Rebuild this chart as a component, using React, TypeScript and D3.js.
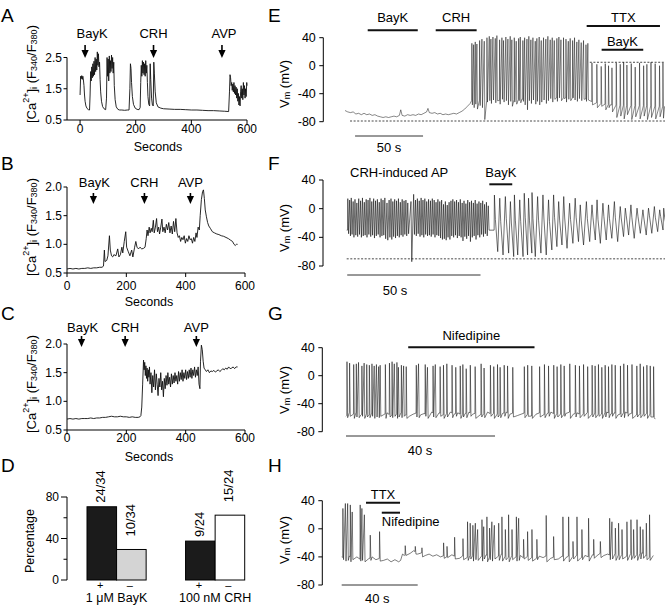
import React from "react";
import * as d3 from "d3";

const FONT = "'Liberation Sans', Arial, Helvetica, sans-serif";

// ---------------- DATA ----------------
// Panel A: [seconds, ratio]
const aTrace = [
  [0, 1.3], [2, 1.9], [4, 1.82], [6, 1.92], [8, 1.8], [10, 1.9], [12, 1.78], [14, 1.6], [16, 1.3], [18, 1.1], [21, 0.95], [25, 0.87], [30, 0.83], [34, 0.82],
  [36, 1.3], [38, 2.05], [40, 1.75], [42, 2.2], [44, 1.85], [46, 2.3], [48, 1.9], [50, 2.38], [52, 1.95], [54, 2.5], [56, 2.05], [58, 2.45], [60, 2.1], [62, 2.68], [64, 2.25], [66, 2.62], [68, 2.2], [70, 2.35], [72, 1.8], [74, 1.4], [77, 1.1], [81, 0.93], [86, 0.86], [92, 0.83],
  [95, 1.2], [97, 2.5], [99, 1.9], [101, 2.45], [103, 1.75], [105, 2.55], [107, 2.0], [109, 2.4], [111, 2.05], [113, 2.58], [115, 2.15], [117, 2.5], [119, 2.0], [121, 2.35], [123, 1.6], [126, 1.15], [130, 0.92], [136, 0.84], [142, 0.82], [150, 0.82], [160, 0.81], [170, 0.82],
  [176, 0.82], [179, 1.5], [181, 2.3], [183, 2.15], [185, 1.7], [188, 1.25], [192, 1.0], [198, 0.88], [205, 0.84], [212, 0.83],
  [216, 0.9], [218, 1.7], [220, 2.25], [222, 1.9], [224, 2.4], [226, 2.0], [228, 2.35], [230, 1.95], [232, 2.3], [234, 1.9], [236, 2.4], [238, 2.0], [240, 2.25], [242, 1.7], [244, 1.25], [247, 1.0], [250, 0.95],
  [252, 2.3], [254, 1.8], [257, 1.2], [260, 0.98], [263, 0.95], [265, 2.35], [267, 2.0], [270, 1.4], [274, 1.05], [280, 0.92], [290, 0.88], [300, 0.86], [320, 0.85], [340, 0.84], [360, 0.84], [380, 0.83], [400, 0.82], [420, 0.82], [440, 0.81], [460, 0.8], [480, 0.8], [500, 0.79], [520, 0.78], [534, 0.77],
  [537, 1.4], [539, 1.95], [541, 1.85], [543, 1.6], [545, 1.7], [547, 1.45], [549, 1.65], [551, 1.4], [553, 1.7], [555, 1.35], [557, 1.6], [559, 1.3], [561, 1.55], [563, 1.2], [565, 1.5], [567, 1.1], [569, 1.35], [571, 0.98], [573, 1.25], [575, 0.95], [577, 1.4], [579, 1.6], [581, 1.2], [583, 1.5], [585, 1.15], [587, 1.7], [589, 1.3], [591, 1.6], [593, 1.2], [595, 1.5], [597, 1.25], [599, 1.7], [600, 1.6],
];
const aArrows = [{ t: 18, label: "BayK" }, { t: 264, label: "CRH" }, { t: 510, label: "AVP" }];

const bTrace = [
  [0, 0.57], [10, 0.58], [20, 0.57], [30, 0.58], [40, 0.57], [50, 0.58], [60, 0.58], [70, 0.59], [80, 0.58], [90, 0.59], [100, 0.59], [110, 0.6], [118, 0.6],
  [123, 0.62], [126, 0.9], [128, 0.7], [134, 0.72], [138, 0.8], [143, 1.15], [146, 0.9], [150, 0.8], [154, 0.78], [158, 0.82], [165, 0.8], [171, 0.92], [175, 0.78], [180, 0.82], [185, 0.95], [188, 0.85], [193, 1.05], [198, 1.22], [201, 0.95], [206, 0.88], [212, 0.8], [218, 0.9], [222, 0.78], [228, 0.95], [232, 1.05], [236, 0.95], [241, 0.92], [246, 0.95], [252, 0.92], [258, 0.93], [263, 0.95],
  [267, 1.1], [270, 1.25], [273, 1.15], [277, 1.3], [280, 1.2], [284, 1.28], [287, 1.22], [291, 1.42], [294, 1.2], [298, 1.3], [302, 1.45], [305, 1.22], [309, 1.3], [312, 1.18], [316, 1.3], [320, 1.44], [323, 1.22], [327, 1.3], [331, 1.2], [335, 1.35], [339, 1.25], [343, 1.38], [347, 1.2], [351, 1.32], [355, 1.18], [359, 1.4], [363, 1.22], [367, 1.45], [371, 1.2], [375, 1.12], [379, 1.15], [383, 1.05], [387, 1.12], [391, 1.08], [395, 1.15], [399, 1.02], [403, 1.1], [407, 1.05], [411, 1.15], [415, 1.08], [419, 1.1], [423, 1.02], [427, 1.12], [431, 1.05], [435, 1.2], [438, 1.12], [442, 1.3], [446, 1.25], [449, 1.5], [453, 1.78], [457, 1.92], [460, 1.95], [463, 1.8], [466, 1.6], [470, 1.48], [474, 1.38], [478, 1.32], [483, 1.28], [490, 1.22], [497, 1.2], [505, 1.18], [512, 1.17], [520, 1.15], [528, 1.14], [536, 1.12], [544, 1.1], [552, 1.07], [558, 1.05], [563, 1.0], [567, 0.98], [571, 1.0], [575, 1.0],
];
const bArrows = [{ t: 89, label: "BayK" }, { t: 261, label: "CRH" }, { t: 416, label: "AVP" }];

const cTrace = [
  [0, 0.69], [10, 0.7], [20, 0.69], [30, 0.7], [40, 0.69], [50, 0.7], [60, 0.7], [70, 0.7], [80, 0.71], [90, 0.7], [100, 0.71], [110, 0.71], [120, 0.72], [130, 0.72], [140, 0.73], [150, 0.74], [160, 0.73], [170, 0.73], [180, 0.74], [190, 0.73], [200, 0.73], [210, 0.72], [220, 0.73], [230, 0.72], [240, 0.72], [246, 0.73], [249, 0.75],
  [252, 0.9], [255, 1.3], [258, 1.72], [260, 1.55], [262, 1.68], [264, 1.45], [266, 1.62], [268, 1.4], [270, 1.58], [272, 1.35], [274, 1.55], [276, 1.42], [278, 1.6], [280, 1.3], [283, 1.5], [286, 1.15], [289, 1.45], [292, 1.25], [295, 1.55], [298, 1.2], [301, 1.48], [304, 1.3], [307, 1.1], [310, 1.4], [313, 1.25], [316, 1.5], [319, 1.2], [322, 1.35], [325, 1.08], [328, 1.4], [331, 1.22], [334, 1.45], [337, 1.28], [340, 1.5], [343, 1.3], [346, 1.42], [349, 1.25], [352, 1.48], [355, 1.3], [358, 1.45], [361, 1.32], [364, 1.5], [367, 1.35], [370, 1.45], [373, 1.3], [376, 1.52], [379, 1.35], [382, 1.5], [385, 1.38], [388, 1.55], [391, 1.35], [394, 1.5], [397, 1.4], [400, 1.55], [403, 1.38], [406, 1.52], [409, 1.4], [412, 1.55], [415, 1.42], [418, 1.58], [421, 1.4], [424, 1.55], [427, 1.45], [430, 1.6], [433, 1.42], [436, 1.55], [439, 1.45], [442, 1.6], [445, 1.3], [448, 1.22],
  [450, 1.7], [453, 1.98], [456, 1.9], [459, 1.7], [462, 1.58], [466, 1.55], [470, 1.52], [475, 1.55], [480, 1.5], [485, 1.53], [490, 1.52], [495, 1.54], [500, 1.51], [505, 1.53], [510, 1.55], [515, 1.52], [520, 1.54], [525, 1.57], [530, 1.55], [535, 1.58], [540, 1.56], [545, 1.6], [550, 1.57], [555, 1.58], [560, 1.6], [565, 1.57], [570, 1.6], [575, 1.6],
];
const cArrows = [{ t: 49, label: "BayK" }, { t: 196, label: "CRH" }, { t: 436, label: "AVP" }];

const ratioTicksA = [0.5, 1.5, 2.5];
const ratioTicksBC = [0.5, 1.0, 1.5, 2.0];
const secondsTicks = [0, 200, 400, 600];

// Panel D
const dGroups = ["1 μM BayK", "100 nM CRH"];
const dConds = ["+", "–"];
const dCounts = [[24, 10], [9, 15]];
const dTotals = [34, 24];
const dTicks = [0, 40, 80];
const dMinorTicks = [20, 60];

// Vm panels
const vmTicks = [40, 0, -40, -80];

// E: baseline [s, mV]; spikes [s, peak mV, trough mV]
const eBaseline = [
  [0, -64], [2, -66], [4, -67], [6, -66], [8, -69], [10, -68], [12, -70], [14, -68], [16, -70], [18, -69], [20, -71], [22, -70], [24, -72], [26, -73], [28, -74], [30, -73], [32, -74], [34, -73], [36, -72], [38, -73], [40, -71], [41, -63], [42, -71], [44, -72], [46, -70], [48, -71], [50, -70], [52, -71], [54, -69], [56, -70], [58, -68], [60, -66], [61, -61], [62, -67], [64, -68], [66, -67], [68, -69], [70, -68], [72, -70], [74, -69], [76, -70], [78, -69], [80, -68], [82, -69], [84, -67], [86, -65], [88, -62], [90, -58], [92, -54], [93, -50],
  [110, -50], [130, -48], [150, -46], [170, -46], [179, -48], [182, -52], [195, -56], [235, -58],
];
const eSpikes = [
  [93.1, 32, -56], [94.4, 30, -60], [95.6, 34, -55], [96.8, 31, -62], [98.8, 36, -57], [100.5, 38, -60], [102.2, 35, -77], [104.2, 40, -52], [105.9, 42, -50], [107.1, 38, -54], [108.6, 41, -49], [110.3, 39, -53], [111.5, 43, -50], [113.5, 37, -55], [115.2, 40, -48], [116.4, 36, -52], [118.1, 41, -50], [119.6, 38, -56], [121.3, 42, -51], [122.5, 37, -58], [124.3, 40, -52], [125.7, 35, -55], [127.5, 39, -50], [128.7, 41, -53], [130.6, 36, -51], [131.9, 40, -56], [133.6, 38, -63], [135.0, 42, -50], [136.5, 37, -54], [138.0, 40, -49], [139.7, 35, -55], [140.9, 39, -51], [142.6, 41, -56], [144.1, 36, -52], [145.8, 40, -49], [147.5, 38, -54], [149.0, 42, -50], [150.7, 37, -47], [152.2, 40, -52], [153.7, 36, -48], [155.6, 39, -51], [157.1, 41, -46], [158.6, 37, -50], [160.5, 40, -47], [162.3, 38, -52], [164.0, 35, -48], [165.4, 39, -50], [167.2, 36, -46], [168.6, 40, -49], [170.3, 34, -51], [171.8, 37, -47], [173.5, 33, -50], [175.2, 36, -48], [177.0, 30, -51], [178.4, 32, -49],
  [181.4, 4, -56], [185.0, 2, -60], [188.2, -1, -58], [191.2, 3, -63], [193.6, 0, -60], [196.1, -3, -66], [199.3, 4, -74], [202.2, 2, -72], [204.7, 5, -76], [207.1, 1, -70], [210.3, 3, -77], [213.2, -2, -73], [216.4, 4, -76], [219.4, 0, -72], [221.8, 2, -77], [224.8, 5, -74], [227.9, 3, -76], [231.1, 0, -73], [233.6, 4, -75],
];

// F
const fBaseline = [[0, -30], [120, -30]];
const fSpikes = [
  [0.3, 14, -35], [1.0, 12, -38], [1.6, 15, -36], [2.3, 10, -40], [3.0, 13, -37], [3.7, 8, -39], [4.4, 14, -36], [5.1, 11, -40], [5.8, 15, -38], [6.5, 9, -37], [7.2, 13, -40], [7.9, 12, -36], [8.6, 15, -39], [9.3, 10, -37], [10.0, 14, -41], [10.7, 11, -38], [11.4, 13, -36], [12.1, 9, -40], [12.8, 14, -38], [13.5, 12, -37], [14.2, 15, -42], [15.0, 8, -44], [15.8, 12, -40], [16.5, 14, -43], [17.2, 10, -39], [17.9, 13, -41], [18.6, 11, -38], [19.3, 14, -40], [20.0, 9, -37], [20.7, 13, -39], [21.4, 11, -36], [22.1, 12, -38], [22.8, 8, -35], [24.0, 10, -74], [25.0, 20, -36], [25.7, 12, -38], [26.4, 14, -35], [27.1, 11, -39], [27.8, 15, -37], [28.5, 12, -40], [29.2, 14, -36], [29.9, 10, -38], [30.6, 13, -37], [31.3, 11, -39], [32.0, 14, -36], [32.7, 12, -40], [33.4, 9, -37], [34.1, 13, -38], [34.8, 10, -41], [35.5, 12, -43], [36.2, 6, -42], [36.9, 10, -44], [37.6, 5, -40], [38.3, 9, -43], [39.0, 11, -38], [39.7, 13, -40], [40.4, 10, -37], [41.1, 12, -41], [41.8, 9, -38], [42.5, 13, -40], [43.2, 8, -45], [43.9, 11, -39], [44.6, 7, -42], [45.3, 12, -38], [46.0, 9, -46], [46.7, 11, -40], [47.4, 8, -38], [48.1, 12, -43], [48.8, 7, -37], [49.5, 10, -40], [50.2, 8, -36], [50.9, 11, -39], [51.6, 6, -35], [52.3, 9, -38], [53.0, 4, -30],
  [55.3, 19, -60, -15], [57.3, 14.6, -64.6, -18], [59.4, 16.9, -62, -14], [61.3, 9.9, -66.9, -20], [62.8, 19.2, -64.6, -16], [64.8, 12.3, -66.9, -18], [66.5, 21.5, -64.6, -12], [68.1, 14.6, -62, -17], [69.4, 22.5, -66.9, -14], [71.5, 16.9, -62, -16], [73.5, 19.2, -64.6, -13], [75.6, 12.3, -57.6, -18], [77.5, 19.2, -53, -12], [79.4, 9.9, -50.7, -16], [81.3, 16.9, -55.3, -13], [83.5, 7.6, -48.4, -15], [85.6, 14.6, -46, -12], [87.5, 5.3, -50.7, -16], [89.8, 9.9, -46, -14], [91.9, 5.3, -43.7, -12], [93.8, 12.3, -48.4, -15], [96.0, 7.6, -43.7, -11], [98.1, 5.3, -41.4, -14], [100.3, 9.9, -46, -12], [102.5, 3, -39, -13], [104.4, 0.7, -36.8, -10], [106.5, 5.3, -41.4, -12], [108.8, 0.7, -34.4, -11], [111.0, -1.6, -36.8, -13], [113.1, 0.7, -34.4, -10], [115.3, 3, -32.1, -12], [117.3, -1.6, -29.8, -11], [118.8, 0.7, -30, -12],
];

// G
const gBaseline = [
  [0, -58], [1, -52], [2, -55], [3, -51], [4, -56], [5, -52], [6, -57], [7, -53], [8, -55], [9, -52], [10, -56], [11, -53], [12, -57], [13, -54], [14, -55], [15, -52], [16, -56], [17, -58], [18, -55], [19, -53], [20, -56], [21, -54], [22, -57], [23, -52], [24, -55], [25, -53], [26, -56], [27, -54], [28, -52], [29, -55], [30, -53], [31, -56], [32, -54], [33, -52], [34, -55], [35, -53], [36, -56], [37, -54], [38, -52], [39, -55], [40, -53], [41, -56], [42, -54], [43, -52], [44, -55], [45, -53], [46, -57], [47, -55], [48, -53], [49, -56], [50, -58], [51, -55], [52, -53], [53, -56], [54, -54], [55, -52], [56, -55], [57, -53], [58, -56], [59, -54], [60, -52], [61, -55], [62, -53], [63, -56], [64, -54], [65, -52], [66, -55], [67, -53], [68, -56], [69, -54], [70, -52], [71, -55], [72, -53], [73, -56], [74, -54], [75, -52], [76, -55], [77, -53], [78, -56], [79, -54], [80, -55], [81, -53], [82, -56], [83, -62],
];
const gSpikes = [
  [0.2, 20, -60], [0.9, 18, -58], [2.0, 16, -61], [2.7, 17, -59], [3.3, 19, -60], [4.2, 14, -58], [4.8, 18, -61], [5.5, 16, -59], [6.2, 15, -60], [6.9, 17, -58], [7.5, 14, -61], [8.1, 16, -59], [8.7, 13, -60], [9.1, 15, -58], [10.5, 16, -61], [11.6, 18, -59], [12.3, 20, -60], [12.9, 17, -58], [13.6, 19, -61], [14.0, 12, -59], [14.8, 15, -60], [15.4, 14, -58], [16.1, 13, -61],
  [18.8, 15, -59], [19.4, 17, -60], [21.2, 16, -58], [21.8, 12, -61], [23.3, 14, -59], [23.9, 16, -60], [25.2, 13, -58], [26.1, 15, -61], [27.0, 17, -59], [28.4, 15, -60], [29.4, 12, -58], [30.6, 14, -61], [31.3, 16, -59], [32.2, 10, -60], [33.3, 15, -58], [34.6, 13, -61], [36.2, 17, -59], [37.0, 11, -60], [38.7, 15, -58], [39.6, 13, -61], [40.6, 16, -59], [41.3, 12, -60], [42.4, 15, -58], [43.3, 14, -61], [44.7, 12, -59],
  [47.8, 13, -60], [48.7, 15, -58], [49.8, 14, -61], [51.9, 13, -59], [53.2, 16, -60], [54.3, 14, -58], [55.7, 15, -61], [56.6, 13, -59], [57.6, 16, -60], [58.5, 14, -58], [60.0, 17, -61], [61.5, 15, -59], [62.6, 14, -60], [63.7, 16, -58], [64.8, 13, -61], [66.0, 15, -59], [66.8, 14, -60], [67.7, 16, -58], [68.6, 12, -61], [69.5, 15, -59], [70.4, 13, -60], [71.3, 16, -58], [72.2, 15, -61], [73.6, 14, -59], [74.5, 17, -60], [75.5, 15, -58], [76.7, 16, -61], [78.0, 14, -59], [78.9, 17, -60], [79.8, 13, -58], [80.7, 15, -61], [81.6, 14, -59], [82.5, 13, -60],
];

// H
const hBaseline = [
  [0, -40], [2, -43], [4, -39], [6, -42], [8, -40], [10, -44], [12, -41], [14, -43], [16, -40], [18, -44], [20, -42], [22, -45], [24, -43], [26, -47], [28, -44], [30, -47], [31, -45], [32, -36], [33, -38], [34, -33], [36, -35], [38, -31], [40, -36], [42, -34], [44, -38], [46, -36], [48, -39], [50, -37], [52, -40], [54, -38], [56, -41], [58, -37], [60, -40], [62, -42], [64, -38], [66, -41], [68, -37], [70, -40], [72, -36], [74, -39], [76, -37], [78, -41], [80, -38], [82, -40], [84, -36], [86, -39], [88, -41], [90, -37], [92, -40], [94, -38], [96, -42], [98, -39], [100, -41], [102, -43], [104, -39], [106, -41], [108, -38], [110, -42], [112, -40], [114, -43], [116, -39], [118, -41], [120, -38], [122, -40], [124, -37], [126, -41], [128, -38], [130, -40], [132, -37], [134, -39], [136, -35], [138, -38], [140, -36], [142, -39], [144, -35], [146, -38], [148, -36], [150, -39], [152, -35], [154, -38], [156, -36], [158, -34], [160, -38], [162, -41], [164, -38],
];
const hSpikes = [
  [0.5, 29, -44], [1.8, 36, -46], [3.0, 36, -45], [4.4, 34, -47], [5.4, 24, -44], [9.6, 34, -46], [10.5, 29, -45], [11.8, 20, -47], [14.9, -9, -45], [19.8, -4, -46], [33.3, -24, -38], [38.6, -25, -36], [42.1, -27, -40], [53.5, -20, -42], [55.3, -25, -41], [59.3, -12, -43], [63.7, -14, -44], [66.1, 10, -45], [67.5, 8, -43], [68.9, 5, -46], [70.2, 8, -44], [71.4, -1, -45], [73.7, 13, -46], [74.6, 3, -43], [76.3, 17, -47], [77.7, 1, -44], [78.9, 10, -46], [80.2, 5, -43], [82.5, 8, -45], [84.2, 17, -46], [86.0, -1, -44], [87.7, 20, -47], [89.5, -1, -44], [91.8, 17, -46], [93.0, 15, -45], [95.6, -15, -43], [97.7, -4, -45], [100.0, -1, -46], [102.6, -15, -44], [107.5, 19, -47], [111.4, -11, -44], [116.3, 17, -46], [119.3, 17, -47], [121.6, -18, -43], [123.7, 17, -46], [126.3, -1, -44], [129.8, 15, -46], [132.5, -15, -42], [136.0, -18, -41], [140.9, 15, -44], [142.1, 10, -43], [143.9, 1, -45], [145.6, 8, -44], [147.4, -1, -43], [150.0, 10, -45], [152.1, 13, -44], [153.5, -1, -42], [155.3, 13, -45], [157.0, 3, -43], [158.4, -1, -42], [160.2, 8, -44], [161.9, 20, -45],
];

// drug application bars [start s, end s, label]
const eDrugs = [[16.7, 53.5, "BayK"], [66.7, 96.8, "CRH"], [177.7, 231.6, "TTX"], [188.7, 219.3, "BayK"]];
const fDrugs = [[53.5, 62.1, "BayK"]];
const gDrugs = [[16.7, 50.6, "Nifedipine"]];
const hDrugs = [[12.8, 30.7, "TTX"], [21.1, 30.7, "Nifedipine"]];

// ---------------- LAYOUT ----------------
const CA_LAYOUT = {
  A: { letterY: 15, xDomain: [-47, 600], xRange: [67, 247], yDomain: [0.5, 2.5], yRange: [120, 57.5], yTicks: ratioTicksA, xLabelY: 129, secondsX: 158, secondsY: 147, arrowTop: 45, arrowTip: 58, arrowLabelY: 33, labelDx: [7, 0, 2] },
  B: { letterY: 163.5, xDomain: [0, 600], xRange: [67, 245], yDomain: [0.5, 2.0], yRange: [273, 187], yTicks: ratioTicksBC, xLabelY: 286, secondsX: 149, secondsY: 302, arrowTop: 193, arrowTip: 204, arrowLabelY: 182, labelDx: [1, 0, 0] },
  C: { letterY: 313.5, xDomain: [0, 600], xRange: [67, 245], yDomain: [0.5, 2.0], yRange: [430, 344], yTicks: ratioTicksBC, xLabelY: 438, secondsX: 149, secondsY: 457, arrowTop: 336, arrowTip: 347, arrowLabelY: 327, labelDx: [1, 0, 0] },
};

type Pt = number[];

function buildTrace(baseline: Pt[], spikes: Pt[], x: any, o: any) {
  const k = (x.domain()[1] - x.domain()[0]) / (x.range()[1] - x.range()[0]);
  const r = o.rise * k, f = o.fall * k, fl = (o.fallLong ?? o.fall) * k, g = o.gap * k;
  const baseAt = (t: number) => {
    let i = d3.bisector((d: Pt) => d[0]).left(baseline, t);
    if (i <= 0) return baseline[0][1];
    if (i >= baseline.length) return baseline[baseline.length - 1][1];
    const a = baseline[i - 1], b = baseline[i];
    return a[1] + ((t - a[0]) / (b[0] - a[0])) * (b[1] - a[1]);
  };
  const pts: Pt[] = [];
  let prevEnd = -Infinity;
  let bi = 0;
  const sp = [...spikes].sort((a, b) => a[0] - b[0]);
  for (const s of sp) {
    const [t, pk, tr, sh] = s;
    const quiet = t - prevEnd > g;
    while (bi < baseline.length && baseline[bi][0] < t) {
      const bt = baseline[bi][0];
      if (quiet && bt > prevEnd + g * 0.5 && bt < t - r) pts.push(baseline[bi]);
      bi++;
    }
    if (quiet) pts.push([t, baseAt(t)]);
    pts.push([t + r, pk]);
    const ff = sh !== undefined ? fl : f;
    if (sh !== undefined) pts.push([t + ff * 0.35, sh]);
    pts.push([t + ff, tr]);
    prevEnd = t + ff;
  }
  while (bi < baseline.length) {
    if (baseline[bi][0] > prevEnd + g * 0.5) pts.push(baseline[bi]);
    bi++;
  }
  return pts;
}

function CaLabel({ x, y }: { x: number; y: number }) {
  return (
    <text transform={`translate(${x},${y}) rotate(-90)`} fontSize={13} dominantBaseline="central">
      [Ca<tspan fontSize={9} dy={-5}>2+</tspan>
      <tspan dy={5}>]</tspan>
      <tspan fontSize={9} dy={3}>i</tspan>
      <tspan dy={-3}> (F</tspan>
      <tspan fontSize={9} dy={3}>340</tspan>
      <tspan dy={-3}>/F</tspan>
      <tspan fontSize={9} dy={3}>380</tspan>
      <tspan dy={-3}>)</tspan>
    </text>
  );
}

function CaPanel({ id, trace, arrows }: any) {
  const L = (CA_LAYOUT as any)[id];
  const x = d3.scaleLinear().domain(L.xDomain).range(L.xRange);
  const y = d3.scaleLinear().domain(L.yDomain).range(L.yRange);
  const line = d3.line<number[]>().x((d) => x(d[0])).y((d) => y(d[1]));
  const ax0 = L.xRange[0], ax1 = L.xRange[1], yb = L.yRange[0], yt = L.yRange[1];
  return (
    <g>
      <text x={1} y={L.letterY} fontSize={19} dominantBaseline="central">{id}</text>
      <line x1={ax0} x2={ax0} y1={yb} y2={yt} stroke="#000" strokeWidth={1} />
      {L.yTicks.map((v: number) => (
        <g key={v}>
          <line x1={ax0 - 3.5} x2={ax0} y1={y(v)} y2={y(v)} stroke="#000" />
          <text x={ax0 - 5} y={y(v)} textAnchor="end" dominantBaseline="central" fontSize={12}>{v.toFixed(1)}</text>
        </g>
      ))}
      <line x1={ax0} x2={ax1} y1={yb} y2={yb} stroke="#000" strokeWidth={1} />
      {secondsTicks.map((v) => (
        <g key={v}>
          <line x1={x(v)} x2={x(v)} y1={yb} y2={yb + 4} stroke="#000" />
          <text x={x(v)} y={L.xLabelY} textAnchor="middle" dominantBaseline="central" fontSize={12}>{v}</text>
        </g>
      ))}
      <text x={L.secondsX} y={L.secondsY} textAnchor="middle" dominantBaseline="central" fontSize={12.5}>Seconds</text>
      <CaLabel x={31} y={yb + 3} />
      <path d={line(trace as any) || ""} fill="none" stroke="#111" strokeWidth={0.9} strokeLinejoin="round" />
      {arrows.map((a: any, i: number) => {
        const ax = x(a.t);
        return (
          <g key={i}>
            <line x1={ax} x2={ax} y1={L.arrowTop} y2={L.arrowTip - 6} stroke="#000" strokeWidth={1.6} />
            <path d={`M${ax - 3.6},${L.arrowTip - 8} L${ax + 3.6},${L.arrowTip - 8} L${ax},${L.arrowTip} Z`} fill="#000" />
            <text x={ax + L.labelDx[i]} y={L.arrowLabelY} textAnchor="middle" dominantBaseline="central" fontSize={13}>{a.label}</text>
          </g>
        );
      })}
    </g>
  );
}

function BarPanel() {
  const y = d3.scaleLinear().domain([0, 80]).range([580, 497]);
  const gx = d3.scaleBand().domain(dGroups).range([87, 244.7]).paddingInner(0.4);
  const cx = d3.scaleBand().domain(dConds).range([0, gx.bandwidth()]);
  const fills = [["#1b1b1b", "#d4d4d4"], ["#1b1b1b", "#ffffff"]];
  const labelGap = [4, 13];
  const ax = 67;
  return (
    <g>
      <text x={1} y={465.5} fontSize={19} dominantBaseline="central">D</text>
      <line x1={ax} x2={ax} y1={y(0)} y2={y(80)} stroke="#000" />
      {dTicks.map((v) => (
        <g key={v}>
          <line x1={ax - 6} x2={ax} y1={y(v)} y2={y(v)} stroke="#000" />
          <text x={ax - 8} y={y(v)} textAnchor="end" dominantBaseline="central" fontSize={12}>{v}</text>
        </g>
      ))}
      {dMinorTicks.map((v) => (
        <line key={v} x1={ax - 3.5} x2={ax} y1={y(v)} y2={y(v)} stroke="#000" />
      ))}
      <text transform={`translate(30,541) rotate(-90)`} textAnchor="middle" dominantBaseline="central" fontSize={12.5}>Percentage</text>
      {dGroups.map((g, gi) => (
        <g key={g}>
          {dConds.map((c, ci) => {
            const v = (dCounts[gi][ci] / dTotals[gi]) * 100;
            const x0 = (gx(g) as number) + (cx(c) as number);
            const w = cx.bandwidth();
            const cxm = x0 + w / 2;
            return (
              <g key={c}>
                <rect x={x0} y={y(v)} width={w} height={y(0) - y(v)} fill={fills[gi][ci]} stroke="#000" strokeWidth={1} />
                <text transform={`translate(${cxm - 1},${y(v) - labelGap[ci]}) rotate(-90)`} textAnchor="start" dominantBaseline="central" fontSize={13}>
                  {`${dCounts[gi][ci]}/${dTotals[gi]}`}
                </text>
                <text x={cxm - 1.5} y={585} textAnchor="middle" dominantBaseline="central" fontSize={11}>{c}</text>
              </g>
            );
          })}
          <text x={(gx(g) as number) + gx.bandwidth() / 2} y={598} textAnchor="middle" dominantBaseline="central" fontSize={12.5}>{g}</text>
        </g>
      ))}
    </g>
  );
}

const VM_PANELS = [
  {
    letter: "E", letterY: 15, dur: 235.3, x0: 345, x1: 665, yb: 121.7, yt: 37.7, axisX: 323.3, labelY: 84,
    baseline: eBaseline, spikes: eSpikes, opts: { rise: 0.25, fall: 0.8, gap: 1.6 }, sw: 0.5,
    drugs: eDrugs, drugY: [30.3, 30.3, 26, 49.7], drugLabelY: [17, 17, 17, 41.7], drugAnchor: ["middle", "middle", "middle", "middle"],
    dotted: [[-79, 3.7, 235.3], [4.9, 180, 235.3]],
    scale: { t0: 7.4, t1: 57.4, y: 136, label: "50 s", lx: 389, ly: 147 },
    extra: [],
  },
  {
    letter: "F", letterY: 163.5, dur: 119.4, x0: 346.7, x1: 665, yb: 266, yt: 180, axisX: 323, labelY: 228,
    baseline: fBaseline, spikes: fSpikes, opts: { rise: 0.3, fall: 1.1, fallLong: 3.6, gap: 3.2 }, sw: 0.6,
    drugs: fDrugs, drugY: [184.3], drugLabelY: [172], drugAnchor: ["middle"],
    dotted: [[-70, 0, 119.4]],
    scale: { t0: 0.2, t1: 50.2, y: 275, label: "50 s", lx: 395, ly: 290 },
    extra: [{ text: "CRH-induced AP", x: 350, y: 172 }],
  },
  {
    letter: "G", letterY: 313.5, dur: 83.4, x0: 346, x1: 656.7, yb: 431.7, yt: 347.7, axisX: 322.3, labelY: 390,
    baseline: gBaseline, spikes: gSpikes, opts: { rise: 0.25, fall: 0.9, gap: 1.6 }, sw: 0.55,
    drugs: gDrugs, drugY: [347.3], drugLabelY: [335.7], drugAnchor: ["middle"],
    dotted: [],
    scale: { t0: 0, t1: 40, y: 436, label: "40 s", lx: 420, ly: 450 },
    extra: [],
  },
  {
    letter: "H", letterY: 465.5, dur: 164, x0: 341.7, x1: 653.3, yb: 585, yt: 500.7, axisX: 322.3, labelY: 540,
    baseline: hBaseline, spikes: hSpikes, opts: { rise: 0.25, fall: 0.9, gap: 1.6 }, sw: 0.55,
    drugs: hDrugs, drugY: [502.7, 512.7], drugLabelY: [494.3, 521.7], drugAnchor: ["middle", "start"],
    dotted: [],
    scale: { t0: 0, t1: 40, y: 585, label: "40 s", lx: 377.3, ly: 598.5 },
    extra: [],
  },
];

function VmPanel({ P }: any) {
  const x = d3.scaleLinear().domain([0, P.dur]).range([P.x0, P.x1]);
  const y = d3.scaleLinear().domain([-80, 40]).range([P.yb, P.yt]);
  const pts = buildTrace(P.baseline, P.spikes, x, P.opts);
  const line = d3.line<number[]>().x((d) => x(d[0])).y((d) => y(d[1]));
  return (
    <g>
      <text x={268} y={P.letterY} fontSize={19} dominantBaseline="central">{P.letter}</text>
      <line x1={P.axisX} x2={P.axisX} y1={y(-80)} y2={y(40)} stroke="#000" />
      {vmTicks.map((v) => (
        <g key={v}>
          <line x1={P.axisX - 4} x2={P.axisX} y1={y(v)} y2={y(v)} stroke="#000" />
          <text x={P.axisX - 7.5} y={y(v)} textAnchor="end" dominantBaseline="central" fontSize={12.5}>{v}</text>
        </g>
      ))}
      <text transform={`translate(284,${P.labelY}) rotate(-90)`} textAnchor="middle" dominantBaseline="central" fontSize={13}>
        V<tspan fontSize={9} dy={3}>m</tspan>
        <tspan dy={-3}> (mV)</tspan>
      </text>
      {P.dotted.map((d: number[], i: number) => (
        <line key={i} x1={x(d[1])} x2={x(d[2])} y1={y(d[0])} y2={y(d[0])} stroke="#333" strokeWidth={0.9} strokeDasharray="2,1.6" />
      ))}
      <path d={line(pts as any) || ""} fill="none" stroke="#111" strokeWidth={P.sw} strokeLinejoin="round" />
      {P.drugs.map((d: any[], i: number) => (
        <g key={i}>
          <line x1={x(d[0])} x2={x(d[1])} y1={P.drugY[i]} y2={P.drugY[i]} stroke="#111" strokeWidth={2} />
          <text
            x={P.drugAnchor[i] === "start" ? x(d[0]) : (x(d[0]) + x(d[1])) / 2}
            y={P.drugLabelY[i]}
            textAnchor={P.drugAnchor[i]}
            dominantBaseline="central"
            fontSize={13}
          >
            {d[2]}
          </text>
        </g>
      ))}
      <line x1={x(P.scale.t0)} x2={x(P.scale.t1)} y1={P.scale.y} y2={P.scale.y} stroke="#333" strokeWidth={1} />
      <text x={P.scale.lx} y={P.scale.ly} textAnchor="middle" dominantBaseline="central" fontSize={13}>{P.scale.label}</text>
      {P.extra.map((e: any, i: number) => (
        <text key={i} x={e.x} y={e.y} dominantBaseline="central" fontSize={13}>{e.text}</text>
      ))}
    </g>
  );
}

export default function App() {
  return (
    <div>
      <style>{`body{margin:0;background:#fff}`}</style>
      <svg width={665} height={607} style={{ display: "block", background: "#fff" }} fontFamily={FONT}>
        <CaPanel id="A" trace={aTrace} arrows={aArrows} />
        <CaPanel id="B" trace={bTrace} arrows={bArrows} />
        <CaPanel id="C" trace={cTrace} arrows={cArrows} />
        <BarPanel />
        {VM_PANELS.map((P) => (
          <VmPanel key={P.letter} P={P} />
        ))}
      </svg>
    </div>
  );
}
